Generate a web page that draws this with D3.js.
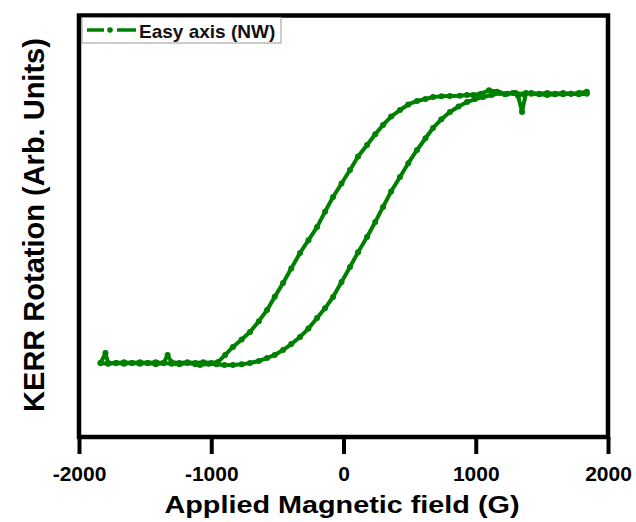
<!DOCTYPE html>
<html>
<head>
<meta charset="utf-8">
<script src="https://cdn.jsdelivr.net/npm/d3@7"></script>
<style>
  body { margin: 0; background: #fff; }
  text { font-family: "Liberation Sans", Arial, sans-serif; font-weight: bold; }
</style>
</head>
<body>
<div id="grafico"></div>
<script>
// Datos: rama que baja (de +H a -H) y rama que sube (de -H a +H)
var campoBaja = [1840, 1780, 1720, 1660, 1600, 1540, 1480, 1420, 1380, 1350, 1320, 1280, 1220, 1160, 1100, 1040,
  980, 934, 880, 805, 740, 677, 620, 556, 490, 427, 360, 299, 240, 178, 110, 49, -15, -79, -140, -200,
  -265, -329, -395, -457, -520, -578, -640, -707, -770, -836, -895, -949, -1000, -1060, -1120, -1180,
  -1240, -1300, -1330, -1360, -1420, -1480, -1540, -1600, -1660, -1720, -1780, -1800, -1837];
var kerrBaja = [0.995, 0.99, 0.995, 0.99, 0.99, 0.985, 0.99, 0.995, 1.0, 0.86, 0.98, 1.0, 0.99, 1.01, 1.02, 0.995,
  0.985, 0.985, 0.98, 0.978, 0.975, 0.97, 0.955, 0.941, 0.915, 0.874, 0.825, 0.763, 0.695, 0.615, 0.53, 0.43, 0.33, 0.23, 0.12, 0.007,
  -0.09, -0.185, -0.3, -0.407, -0.51, -0.607, -0.69, -0.77, -0.825, -0.881, -0.94, -0.993, -1.0, -0.995, -1.0, -0.995,
  -1.0, -0.995, -0.94, -1.0, -0.995, -1.0, -0.995, -1.0, -0.995, -1.0, -1.0, -0.926, -1.0];

var campoSube = [-1837, -1780, -1720, -1660, -1600, -1540, -1480, -1420, -1360, -1300, -1240, -1180, -1120, -1085,
  -1020, -960, -900, -836, -770, -707, -640, -578, -520, -457, -395, -329, -265, -200, -140, -79, -15, 49, 110,
  178, 240, 299, 360, 427, 490, 556, 620, 677, 740, 805, 870, 934, 995, 1055, 1120, 1183, 1240, 1300, 1360,
  1420, 1480, 1540, 1600, 1660, 1720, 1780, 1840];
var kerrSube = [-1.0, -1.005, -1.0, -1.005, -1.0, -1.005, -1.0, -1.01, -1.0, -1.005, -1.01, -1.0, -1.01, -1.015,
  -1.005, -1.01, -1.015, -1.015, -1.01, -1.0, -0.985, -0.963, -0.94, -0.904, -0.86, -0.807, -0.745, -0.667, -0.595, -0.511, -0.4, -0.289, -0.18,
  -0.067, 0.045, 0.156, 0.27, 0.378, 0.48, 0.578, 0.665, 0.741, 0.805, 0.859, 0.9, 0.933, 0.955, 0.97, 0.985, 1.0, 0.995, 1.0, 0.99,
  1.0, 0.995, 1.0, 0.995, 1.0, 0.995, 1.0, 1.01];

var ticksX = [-2000, -1000, 0, 1000, 2000];
var nombreSerie = "Easy axis (NW)";

// Unimos las dos ramas en un solo ciclo
var datos = [];
campoBaja.forEach(function(c, i) { datos.push({campo: c, kerr: kerrBaja[i]}); });
campoSube.forEach(function(c, i) { datos.push({campo: c, kerr: kerrSube[i]}); });

var svg = d3.select("#grafico")
            .append("svg")
            .attr("width", 636)
            .attr("height", 522);

var izq = 79, der = 608, arriba = 15.5, abajo = 437;
var verde = "#008000";

var x = d3.scaleLinear().domain([-2000, 2000]).range([izq, der]);
var y = d3.scaleLinear().domain([-1.548, 1.574]).range([abajo, arriba]);

// Eje x con marcas hacia fuera (guion normal en los negativos)
var ejeX = svg.append("g")
   .attr("transform", "translate(0," + abajo + ")")
   .call(d3.axisBottom(x).tickValues(ticksX).tickSize(17).tickSizeOuter(0)
           .tickFormat(function(d) { return String(d); }));
ejeX.select(".domain").remove();
ejeX.selectAll("line").attr("stroke", "#000").attr("stroke-width", 4);
ejeX.selectAll("text")
    .attr("y", 44)
    .attr("dy", 0)
    .attr("fill", "#000")
    .style("font-size", "21px");

// La linea y los puntos
var linea = d3.line()
    .x(function(d) { return x(d.campo); })
    .y(function(d) { return y(d.kerr); });

svg.append("path")
   .datum(datos)
   .attr("fill", "none")
   .attr("stroke", verde)
   .attr("stroke-width", 4)
   .attr("stroke-linejoin", "round")
   .attr("d", linea);

svg.append("g")
   .selectAll("circle")
   .data(datos)
   .enter().append("circle")
   .attr("cx", function(d) { return x(d.campo); })
   .attr("cy", function(d) { return y(d.kerr); })
   .attr("r", 3)
   .attr("fill", verde);

// Marco del grafico
svg.append("rect")
   .attr("x", izq)
   .attr("y", arriba)
   .attr("width", der - izq)
   .attr("height", abajo - arriba)
   .attr("fill", "none")
   .attr("stroke", "#000")
   .attr("stroke-width", 4.5);

// Leyenda
var leyenda = svg.append("g");
leyenda.append("rect")
   .attr("x", 82).attr("y", 17.5)
   .attr("width", 199).attr("height", 25.5)
   .attr("fill", "#fff")
   .attr("stroke", "#999")
   .attr("stroke-width", 1);
leyenda.append("line")
   .attr("x1", 87).attr("x2", 104).attr("y1", 30).attr("y2", 30)
   .attr("stroke", verde).attr("stroke-width", 3.5);
leyenda.append("line")
   .attr("x1", 117).attr("x2", 136).attr("y1", 30).attr("y2", 30)
   .attr("stroke", verde).attr("stroke-width", 3.5);
leyenda.append("circle")
   .attr("cx", 110).attr("cy", 30).attr("r", 2.8)
   .attr("fill", verde);
leyenda.append("text")
   .attr("x", 139).attr("y", 37.5)
   .style("font-size", "19px")
   .attr("fill", "#111")
   .text(nombreSerie);

// Titulos de los ejes
svg.append("text")
   .attr("x", 342).attr("y", 513)
   .attr("text-anchor", "middle")
   .style("font-size", "24px")
   .attr("textLength", 355)
   .attr("lengthAdjust", "spacingAndGlyphs")
   .text("Applied Magnetic field (G)");

svg.append("text")
   .attr("transform", "translate(44,225) rotate(-90)")
   .attr("text-anchor", "middle")
   .style("font-size", "29px")
   .text("KERR Rotation (Arb. Units)");
</script>
</body>
</html>
